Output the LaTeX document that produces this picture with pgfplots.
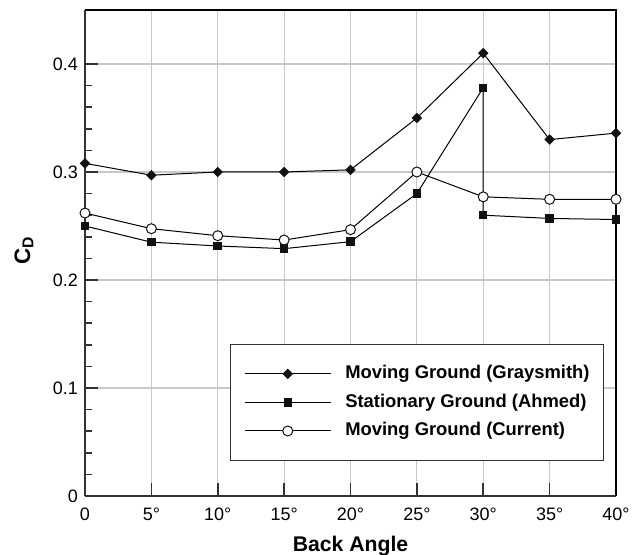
\documentclass[border=0pt]{standalone}
\usepackage{fontspec}
\setmainfont{Liberation Sans}
\usepackage{pgfplots}
\pgfplotsset{compat=1.18}
\definecolor{gridgray}{RGB}{200,200,200}
\definecolor{mk}{RGB}{17,17,17}
\begin{document}
\begin{tikzpicture}
\path[use as bounding box] (-42.5pt,-29.5pt) rectangle (276.5pt,248pt);
\begin{axis}[
  at={(0,0)}, anchor=south west,
  scale only axis,
  width=265.5pt, height=243pt,
  xmin=0, xmax=40, ymin=0, ymax=0.45,
  axis lines=left,
  axis line style={-, line width=1pt, draw=black!80},
  clip=false,
  tick align=inside,
  major tick length=6.5pt, minor tick length=3.5pt,
  tick style={line width=0.8pt, draw=black!80},
  xtick={0,5,10,15,20,25,30,35,40},
  xticklabels={0,5°,10°,15°,20°,25°,30°,35°,40°},
  ytick={0,0.1,0.2,0.3,0.4},
  yticklabels={0,0.1,0.2,0.3,0.4},
  minor y tick num=4,
  grid=major,
  major grid style={gridgray, line width=0.6pt},
  ticklabel style={font=\fontsize{9}{10}\selectfont},
  xticklabel style={yshift=-2.2pt},
  xlabel={\textbf{Back Angle}},
  ylabel={\textbf{C\textsubscript{D}}},
  label style={font=\fontsize{10.6}{12}\selectfont},
  xlabel style={at={(axis description cs:0.5,-0.1152)}, anchor=base},
  ylabel style={at={(axis description cs:-0.115,0.506)}, anchor=center, rotate=0, font=\fontsize{11.2}{13}\selectfont},
  legend image code/.code={\draw[mark repeat=2,mark phase=2,#1] plot coordinates {(0pt,0pt) (21.5pt,0pt) (43pt,0pt)};},
  legend style={at={(axis description cs:0.273,0.313)}, anchor=north west,
    draw=black!80, line width=0.6pt,
    inner xsep=6.85pt, inner ysep=10.35pt,
    row sep=5.45pt, column sep=7pt,
    font=\fontsize{9.2}{10}\selectfont\bfseries,
    nodes={inner sep=0pt, text height=6.8pt, text depth=2pt},
    cells={anchor=west}},
  every axis plot/.append style={line width=0.5pt, black},
]
\draw[line width=0.6pt, black] (rel axis cs:0,1) -- (rel axis cs:1,1) -- (rel axis cs:1,0);
\addplot[mark=square*, mark size=1.6pt, mark options={rotate=45, fill=mk, draw=mk}] coordinates {
 (0,0.308) (5,0.297) (10,0.300) (15,0.300) (20,0.302) (25,0.350) (30,0.410) (35,0.330) (40,0.336)};
\addlegendentry{Moving Ground (Graysmith)}
\addplot[mark=square*, mark size=1.875pt, mark options={fill=mk, draw=mk}] coordinates {
 (0,0.250) (5,0.235) (10,0.2315) (15,0.229) (20,0.2355) (25,0.280) (30,0.378) (30,0.260) (35,0.257) (40,0.256)};
\addlegendentry{Stationary Ground (Ahmed)}
\addplot[mark=*, mark size=2.5pt, mark options={fill=white, draw=mk, line width=0.5pt}] coordinates {
 (0,0.262) (5,0.2475) (10,0.241) (15,0.237) (20,0.2466) (25,0.300) (30,0.277) (35,0.2747) (40,0.2747)};
\addlegendentry{Moving Ground (Current)}
\end{axis}
\end{tikzpicture}
\end{document}
